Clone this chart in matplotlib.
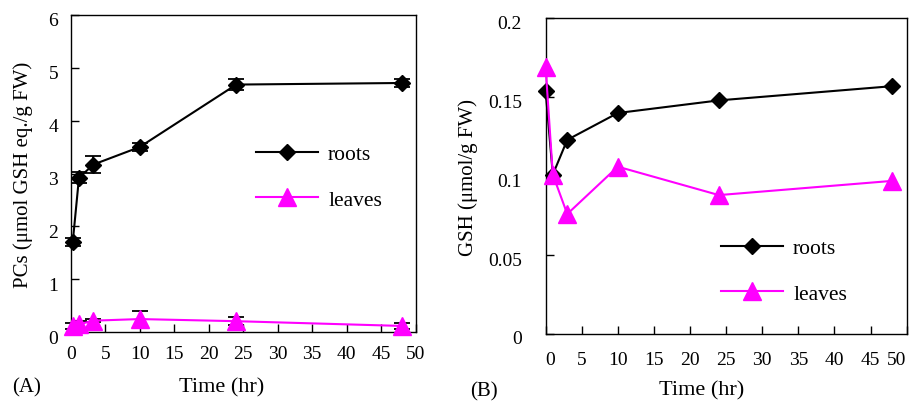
import matplotlib
matplotlib.use("Agg")
import matplotlib.pyplot as plt
from matplotlib.transforms import ScaledTranslation

plt.rcParams['font.family'] = ['Liberation Serif', 'DejaVu Serif']

MAGENTA = '#ff00ff'

# panel A: PCs
a_time = [0.3, 1.2, 3.3, 10, 24, 48]
a_roots = [1.71, 2.92, 3.17, 3.50, 4.68, 4.71]
a_roots_err = [0.08, 0.10, 0.16, 0.07, 0.10, 0.08]
a_leaves = [0.12, 0.15, 0.22, 0.25, 0.21, 0.12]
a_leaves_err = [0.05, 0.07, 0.03, 0.15, 0.07, 0.05]

# panel B: GSH
b_time = [0, 1, 3, 10, 24, 48]
b_roots = [0.154, 0.101, 0.123, 0.140, 0.148, 0.157]
b_leaves = [0.169, 0.101, 0.076, 0.106, 0.088, 0.097]

a_yticks = [0, 1, 2, 3, 4, 5, 6]
b_yticks = [0, 0.05, 0.1, 0.15, 0.2]
xticks = [0, 5, 10, 15, 20, 25, 30, 35, 40, 45, 50]

fig = plt.figure(figsize=(9.11, 4.02), dpi=100)
axA = fig.add_axes([70.7 / 911, 1 - 333.3 / 402, 345 / 911, 317.6 / 402])
axB = fig.add_axes([545.6 / 911, 1 - 335 / 402, 361 / 911, 315.7 / 402])


def style(ax, ypad, xpad, ydrop):
    ax.set_xlim(0, 50)
    ax.set_xticks(xticks)
    ax.tick_params(direction='in', length=5.5, width=1, labelsize=14,
                   top=False, right=False)
    ax.tick_params(axis='y', pad=ypad)
    ax.tick_params(axis='x', pad=xpad)
    for s in ax.spines.values():
        s.set_linewidth(1)
    # labels sit a little below their ticks in the original
    off = ScaledTranslation(0, -ydrop / 100, fig.dpi_scale_trans)
    for lab in ax.get_yticklabels():
        lab.set_transform(lab.get_transform() + off)


# A
axA.errorbar(a_time, a_roots, yerr=a_roots_err, color='black', marker='D',
             ms=8.5, lw=1.5, ecolor='black', elinewidth=1.3, capsize=6,
             capthick=1.3, clip_on=False, label='roots', zorder=3)
axA.errorbar(a_time, a_leaves, yerr=a_leaves_err, color=MAGENTA, marker='^',
             ms=12.5, lw=1.5, ecolor='black', elinewidth=1.3, capsize=6,
             capthick=1.3, clip_on=False, label='leaves', zorder=4)
axA.set_ylim(0, 6)
axA.set_yticks(a_yticks)
axA.set_yticklabels([f'{v:g}' for v in a_yticks])
style(axA, 9, 9, 4)
axA.set_xlabel('Time (hr)', fontsize=16, va='center')
axA.xaxis.set_label_coords((222 - 70.7) / 345, (333.3 - 388) / 317.6)
axA.set_ylabel('PCs (\u03bcmol GSH eq./g FW)', fontsize=15, va='center')
axA.yaxis.set_label_coords((23 - 70.7) / 345, 0.5)

hA, lA = axA.get_legend_handles_labels()
axA.legend([h[0] for h in hA], lA, loc='center left', frameon=False,
           bbox_to_anchor=(256 / 911, 1 - 178 / 402), bbox_transform=fig.transFigure,
           fontsize=15.5, handlelength=2.9, handletextpad=0.45,
           labelspacing=1.2, borderpad=0, borderaxespad=0)

# B
axB.plot(b_time, b_roots, color='black', marker='D', ms=8.5, lw=1.5,
         clip_on=False, label='roots', zorder=3)
axB.plot(b_time, b_leaves, color=MAGENTA, marker='^', ms=12.5, lw=1.5,
         clip_on=False, label='leaves', zorder=4)
axB.set_ylim(0, 0.2)
axB.set_yticks(b_yticks)
axB.set_yticklabels([f'{v:g}' for v in b_yticks])
style(axB, 17, 12, 3)
bx = axB.get_xticklabels()
bx[0].set_ha('left')
bx[-1].set_ha('right')
axB.set_xlabel('Time (hr)', fontsize=16, va='center')
axB.xaxis.set_label_coords((702 - 545.6) / 361, (335 - 391) / 315.7)
axB.set_ylabel('GSH (\u03bcmol/g FW)', fontsize=15, va='center')
axB.yaxis.set_label_coords((468 - 545.6) / 361, 0.5)
axB.legend(loc='center left', frameon=False,
           bbox_to_anchor=(721 / 911, 1 - 272 / 402), bbox_transform=fig.transFigure,
           fontsize=15.5, handlelength=2.9, handletextpad=0.45,
           labelspacing=1.2, borderpad=0, borderaxespad=0)

fig.text(27 / 911, 1 - 388 / 402, '(A)', fontsize=15, ha='center', va='center')
fig.text(484 / 911, 1 - 392 / 402, '(B)', fontsize=15, ha='center', va='center')

fig.savefig('out.png', dpi=100)
